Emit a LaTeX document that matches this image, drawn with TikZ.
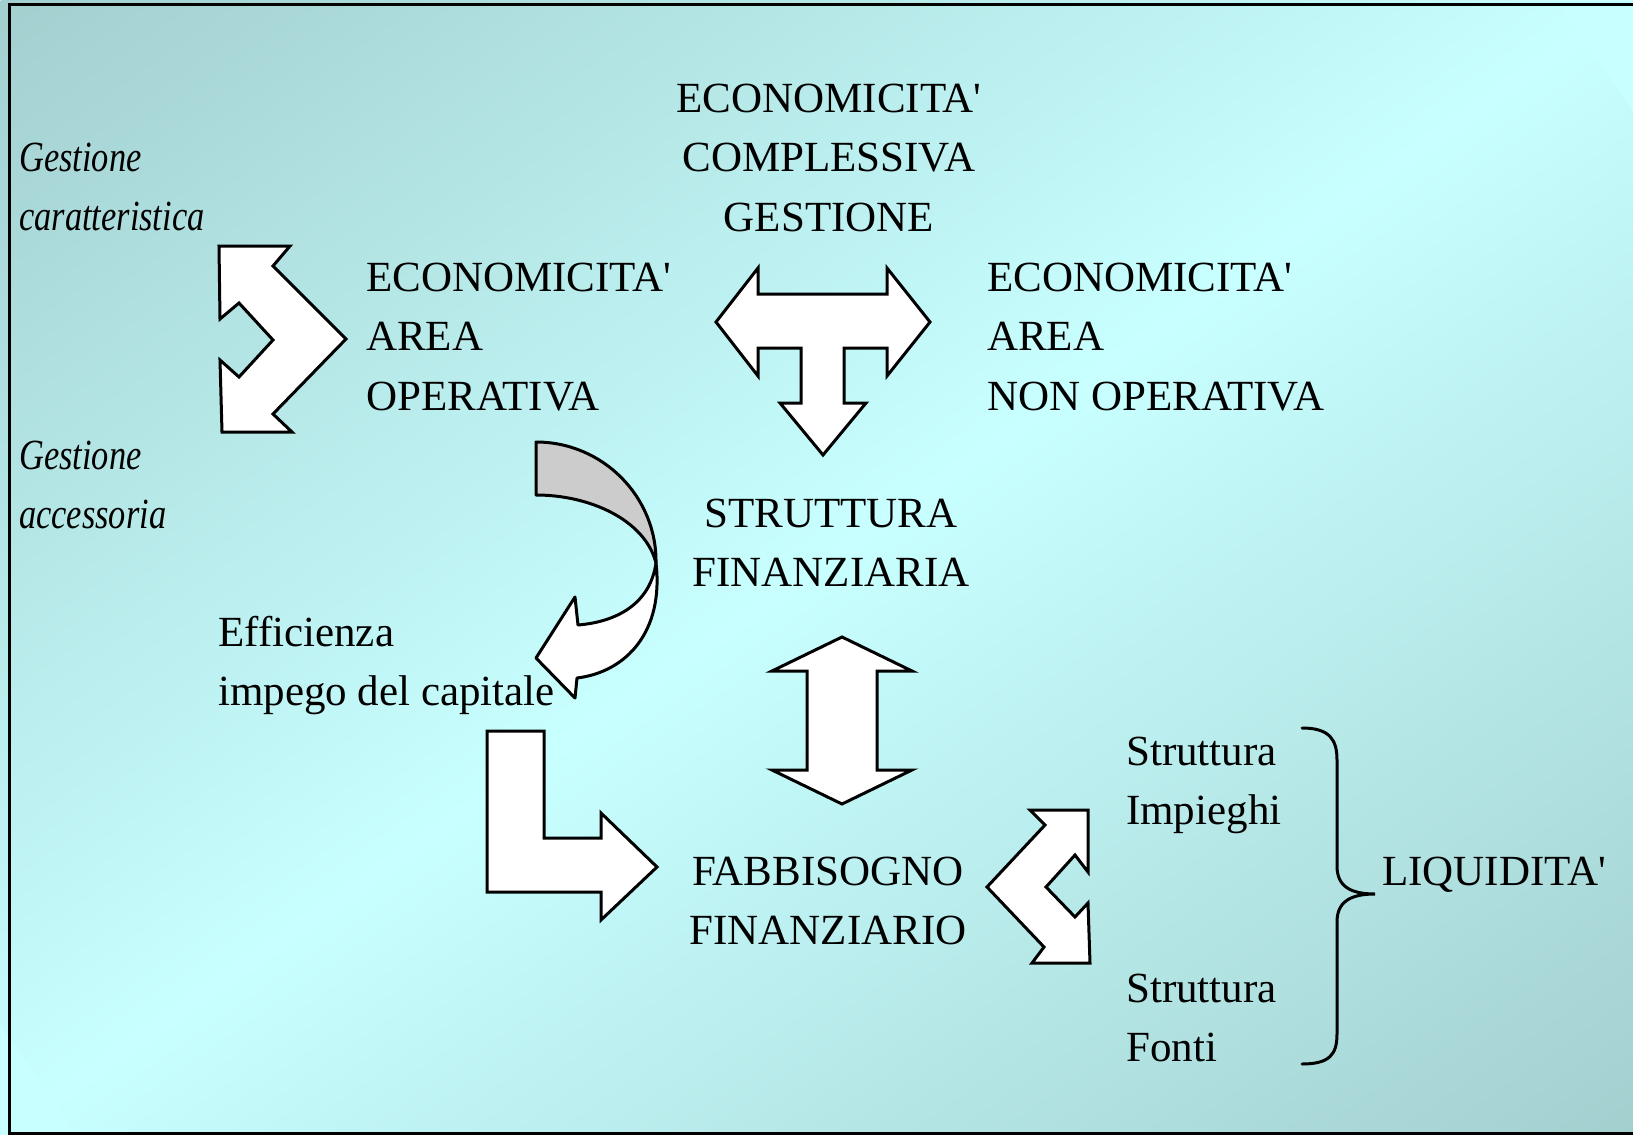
\documentclass[tikz,border=0pt]{standalone}
\usepackage{fontspec}
\setmainfont{Liberation Serif}
\newfontfamily\slimfont[FakeStretch=0.8]{Liberation Serif}
\definecolor{bgdark}{RGB}{163,207,207}
\definecolor{bglight}{RGB}{200,255,255}
\definecolor{curlgray}{RGB}{204,204,204}
\tikzset{
  bigarrow/.style={draw=black, fill=white, line width=3pt, line join=miter},
  txt/.style={font=\fontsize{43}{59.4}\selectfont, inner sep=0pt, text=black},
  itxt/.style={font=\slimfont\itshape\fontsize{43}{59.4}\selectfont, inner sep=0pt, text=black},
}
\begin{document}
\begin{tikzpicture}[x=1pt, y=-1pt]
  % page and background
  \useasboundingbox (0,0) rectangle (1633,1135);
  \clip (0,0) rectangle (1633,1135);
  \fill[bglight] (0,0) rectangle (1633,1135);
  % diagonal gradient: dark in the upper left and lower right corners
  \begin{scope}[transform canvas={shift={(816.5,567.5)}, rotate=-55.2}]
    \shade[left color=bgdark, right color=bgdark, middle color=bglight]
      (-931,-931) rectangle (931,931);
  \end{scope}
  \draw[line width=3.3pt] (9.5,4.5) rectangle (1660,1134);

  % texts (anchors sit on the baseline of the last line)
  \node[txt, align=center, anchor=base] (econtot) at (829,231)
    {ECONOMICITA\textquotesingle\\COMPLESSIVA\\GESTIONE};
  \node[itxt, align=left, anchor=base west] (gescar) at (19,230.5)
    {Gestione\\caratteristica};
  \node[txt, align=left, anchor=base west] (econop) at (366,410)
    {ECONOMICITA\textquotesingle\\AREA\\OPERATIVA};
  \node[txt, align=left, anchor=base west] (econnop) at (987,410)
    {ECONOMICITA\textquotesingle\\AREA\\NON OPERATIVA};
  \node[itxt, align=left, anchor=base west] (gesacc) at (19,528.5)
    {Gestione\\accessoria};
  \node[txt, align=center, anchor=base] (strfin) at (831,586.5)
    {STRUTTURA\\FINANZIARIA};
  \node[txt, align=left, anchor=base west] (effic) at (218,705.5)
    {Efficienza\\impego del capitale};
  \node[txt, align=center, anchor=base] (fabfin) at (828,944.5)
    {FABBISOGNO\\FINANZIARIO};
  \node[txt, align=left, anchor=base west] (strimp) at (1126,824.5)
    {Struttura\\Impieghi};
  \node[txt, align=left, anchor=base west] (strfon) at (1126,1061.5)
    {Struttura\\Fonti};
  \node[txt, anchor=base west] (liq) at (1382,885) {LIQUIDITA\textquotesingle};

  % split arrow beside the operating area
  \draw[bigarrow] (219,246) -- (290,246) -- (273,266) -- (346,339) -- (273,414)
    -- (292,432) -- (222,432) -- (220,360) -- (239,377) -- (273,340)
    -- (239,303) -- (220,319) -- cycle;

  % three-way arrow under the overall economy
  \draw[bigarrow] (716,322) -- (758,268) -- (758,294) -- (887,294) -- (887,268)
    -- (930,322) -- (887,376) -- (887,348) -- (844,348) -- (844,403)
    -- (866,403) -- (823,455) -- (780,403) -- (801,403) -- (801,348)
    -- (758,348) -- (758,376) -- cycle;

  % curved arrow: back face and front face
  \draw[line width=3pt, fill=curlgray, line join=round]
    (536,442) .. controls (603,442) and (657,497) .. (656,563)
    .. controls (645,520) and (590,495) .. (536,495) -- cycle;
  \draw[bigarrow, line join=round]
    (656,563) .. controls (664,632) and (626,672) .. (577,678)
    -- (575,698) -- (536,658) -- (575,597) -- (578,625)
    .. controls (615,622) and (650,605) .. (656,563) -- cycle;

  % L-shaped arrow
  \draw[bigarrow] (487,731) -- (544,731) -- (544,838) -- (601,838) -- (601,813)
    -- (657,867) -- (601,920) -- (601,892) -- (487,892) -- cycle;

  % vertical double arrow
  \draw[bigarrow] (842,637) -- (912,671) -- (877,671) -- (877,770) -- (912,770)
    -- (842,804) -- (772,770) -- (807,770) -- (807,671) -- (772,671) -- cycle;

  % split arrow beside the financial need
  \draw[bigarrow] (1030,810) -- (1088,810) -- (1088,872) -- (1075,855)
    -- (1046,887) -- (1075,917) -- (1088,903) -- (1090,963) -- (1032,963)
    -- (1044,947) -- (987,887) -- (1045,825) -- cycle;

  % brace
  \draw[line width=3pt, line cap=round]
    (1302,728) .. controls (1330,728) and (1337,740) .. (1337,760)
    -- (1337,866) .. controls (1337,886) and (1350,894) .. (1375,894)
    .. controls (1350,894) and (1337,902) .. (1337,922)
    -- (1337,1034) .. controls (1337,1054) and (1330,1064) .. (1302,1064);
\end{tikzpicture}
\end{document}
